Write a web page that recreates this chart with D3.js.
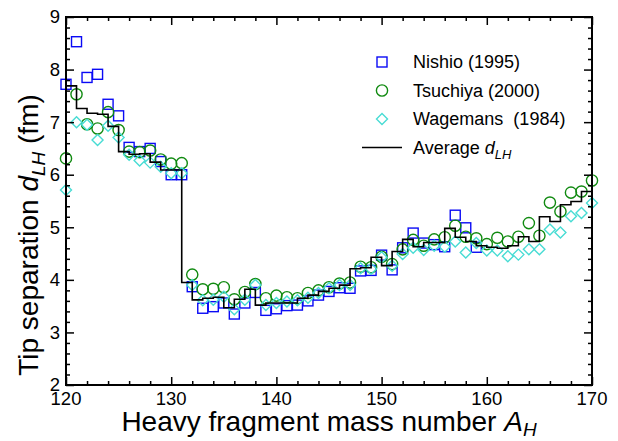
<!DOCTYPE html>
<html>
<head>
<meta charset="utf-8">
<script src="https://cdn.jsdelivr.net/npm/d3@7"></script>
<style>
  body { margin: 0; background: #fff; }
  text { font-family: "Liberation Sans", Arial, sans-serif; fill: #000; }
</style>
</head>
<body>
<svg id="chart" width="618" height="441"></svg>
<script>
// heavy fragment mass numbers A_H
const massNumbers = d3.range(120, 171);

// Nishio (1995), A_H = 120..159
const nishioStart = 120;
const nishio = [7.72, 8.53, 7.85, 7.91, 7.34, 7.12, 6.52, 6.44, 6.50, 6.25,
  6.00, 6.00, 3.87, 3.46, 3.49, 3.56, 3.35, 3.56, 3.76, 3.42,
  3.45, 3.51, 3.52, 3.60, 3.71, 3.78, 3.85, 3.84, 4.17, 4.18,
  4.47, 4.19, 4.61, 4.89, 4.70, 4.67, 4.63, 5.23, 4.99, 4.62];

// Tsuchiya (2000), A_H = 120..170
const tsuchiya = [6.31, 7.53, 6.96, 6.88, 7.19, 6.85, 6.44, 6.43, 6.46, 6.29,
  6.21, 6.22, 4.10, 3.82, 3.83, 3.86, 3.63, 3.77, 3.92, 3.65,
  3.70, 3.67, 3.65, 3.75, 3.80, 3.86, 3.93, 3.95, 4.25, 4.24,
  4.44, 4.30, 4.58, 4.76, 4.65, 4.77, 4.81, 5.03, 4.82, 4.79,
  4.68, 4.80, 4.73, 4.82, 5.08, 4.84, 5.47, 5.30, 5.66, 5.68, 5.89];

// Wagemans (1984), A_H = 120..170
const wagemans = [5.71, 7.00, 6.95, 6.66, 6.93, 6.71, 6.38, 6.27, 6.23, 6.15,
  6.03, 6.03, 3.90, 3.61, 3.62, 3.68, 3.44, 3.62, 3.90, 3.52,
  3.56, 3.59, 3.61, 3.66, 3.75, 3.84, 3.90, 3.90, 4.22, 4.21,
  4.43, 4.27, 4.49, 4.61, 4.57, 4.65, 4.63, 4.73, 4.52, 4.70,
  4.56, 4.56, 4.45, 4.48, 4.58, 4.58, 4.96, 4.90, 5.21, 5.27, 5.46];

// Average d_LH, A_H = 120..170 (drawn as steps ending at each A)
const average = [6.58, 7.69, 7.26, 7.17, 7.15, 6.92, 6.44, 6.39, 6.40, 6.24,
  6.09, 6.09, 3.95, 3.62, 3.65, 3.67, 3.47, 3.63, 3.82, 3.52,
  3.56, 3.56, 3.56, 3.65, 3.71, 3.78, 3.84, 3.90, 4.21, 4.23,
  4.43, 4.27, 4.54, 4.77, 4.63, 4.71, 4.71, 4.98, 4.81, 4.73,
  4.65, 4.62, 4.60, 4.65, 4.82, 4.73, 5.20, 5.11, 5.43, 5.49, 5.68];

const xMajor = [120, 130, 140, 150, 160, 170];
const yMajor = [2, 3, 4, 5, 6, 7, 8, 9];

const legendItems = [
  { label: 'Nishio (1995)', kind: 'square' },
  { label: 'Tsuchiya (2000)', kind: 'circle' },
  { label: 'Wagemans  (1984)', kind: 'diamond' },
  { label: 'Average', kind: 'line' }
];

const colors = { square: '#0a0af5', circle: '#108a10', diamond: '#48dcd4' };

const svg = d3.select('#chart');
const m = { left: 66, right: 592, top: 17, bottom: 385 };

const x = d3.scaleLinear().domain([120, 170]).range([m.left, m.right]);
const y = d3.scaleLinear().domain([2, 9]).range([m.bottom, m.top]);

const toPoints = (vals, start) => vals.map((v, i) => ({ a: start + i, v: v }));

// marker drawing
function drawMarker(g, kind, cx, cy) {
  if (kind === 'square') {
    g.append('rect').attr('x', cx - 5).attr('y', cy - 5)
      .attr('width', 10).attr('height', 10)
      .attr('fill', 'none').attr('stroke', colors.square).attr('stroke-width', 1.4);
  } else if (kind === 'circle') {
    g.append('circle').attr('cx', cx).attr('cy', cy).attr('r', 5.6)
      .attr('fill', 'none').attr('stroke', colors.circle).attr('stroke-width', 1.4);
  } else if (kind === 'diamond') {
    g.append('path')
      .attr('d', `M${cx},${cy - 5.5}L${cx + 5.5},${cy}L${cx},${cy + 5.5}L${cx - 5.5},${cy}Z`)
      .attr('fill', 'none').attr('stroke', colors.diamond).attr('stroke-width', 1.4);
  }
}

const series = [
  { kind: 'square', pts: toPoints(nishio, nishioStart) },
  { kind: 'circle', pts: toPoints(tsuchiya, massNumbers[0]) },
  { kind: 'diamond', pts: toPoints(wagemans, massNumbers[0]) }
];

const marks = svg.append('g');
series.forEach(s => {
  s.pts.forEach(p => drawMarker(marks, s.kind, x(p.a), y(p.v)));
});

// average step line
const stepLine = d3.line()
  .x(d => x(d.a))
  .y(d => y(d.v))
  .curve(d3.curveStepBefore);

svg.append('path')
  .datum(toPoints(average, massNumbers[0]))
  .attr('d', stepLine)
  .attr('fill', 'none')
  .attr('stroke', '#000')
  .attr('stroke-width', 1.6);

// axes with inward ticks on all four sides
const xMinor = d3.range(120, 171, 2).filter(v => !xMajor.includes(v));
const yMinor = d3.range(20, 91, 2).map(v => v / 10).filter(v => !yMajor.includes(v));

svg.append('g').attr('transform', `translate(0,${m.bottom})`)
  .call(d3.axisBottom(x).tickValues(xMajor).tickSize(-8).tickFormat(''));
svg.append('g').attr('transform', `translate(0,${m.bottom})`)
  .call(d3.axisBottom(x).tickValues(xMinor).tickSize(-4).tickFormat(''));
svg.append('g').attr('transform', `translate(0,${m.top})`)
  .call(d3.axisTop(x).tickValues(xMajor).tickSize(-8).tickFormat(''));
svg.append('g').attr('transform', `translate(0,${m.top})`)
  .call(d3.axisTop(x).tickValues(xMinor).tickSize(-4).tickFormat(''));
svg.append('g').attr('transform', `translate(${m.left},0)`)
  .call(d3.axisLeft(y).tickValues(yMajor).tickSize(-8).tickFormat(''));
svg.append('g').attr('transform', `translate(${m.left},0)`)
  .call(d3.axisLeft(y).tickValues(yMinor).tickSize(-4).tickFormat(''));
svg.append('g').attr('transform', `translate(${m.right},0)`)
  .call(d3.axisRight(y).tickValues(yMajor).tickSize(-8).tickFormat(''));
svg.append('g').attr('transform', `translate(${m.right},0)`)
  .call(d3.axisRight(y).tickValues(yMinor).tickSize(-4).tickFormat(''));

svg.selectAll('.domain').remove();
svg.selectAll('.tick line').attr('stroke', '#000').attr('stroke-width', 1.5);

svg.append('rect')
  .attr('x', m.left).attr('y', m.top)
  .attr('width', m.right - m.left).attr('height', m.bottom - m.top)
  .attr('fill', 'none').attr('stroke', '#000').attr('stroke-width', 2);

// tick labels
svg.append('g').selectAll('text').data(xMajor).join('text')
  .attr('x', d => x(d)).attr('y', 405)
  .attr('text-anchor', 'middle')
  .style('font-size', '18.5px')
  .text(d => d);

svg.append('g').selectAll('text').data(yMajor).join('text')
  .attr('x', 60).attr('y', d => y(d)).attr('dy', '0.35em')
  .attr('text-anchor', 'end')
  .style('font-size', '18.5px')
  .text(d => d);

// axis titles
const xTitle = svg.append('text')
  .attr('x', (m.left + m.right) / 2).attr('y', 431)
  .attr('text-anchor', 'middle')
  .style('font-size', '28px');
xTitle.append('tspan').text('Heavy fragment mass number ');
xTitle.append('tspan').style('font-style', 'italic').text('A');
xTitle.append('tspan').style('font-style', 'italic').style('font-size', '19px')
  .attr('dy', 5).text('H');

const yTitle = svg.append('text')
  .attr('transform', `translate(38,${(m.top + m.bottom) / 2 + 34}) rotate(-90)`)
  .attr('text-anchor', 'middle')
  .style('font-size', '28px');
yTitle.append('tspan').text('Tip separation ');
yTitle.append('tspan').style('font-style', 'italic').text('d');
yTitle.append('tspan').style('font-style', 'italic').style('font-size', '19px')
  .attr('dy', 7).text('LH');
yTitle.append('tspan').attr('dy', -7).text(' (fm)');

// legend
const legend = svg.append('g');
legendItems.forEach((item, i) => {
  const ly = 62 + i * 28.5;
  if (item.kind === 'line') {
    legend.append('line')
      .attr('x1', 362).attr('x2', 402).attr('y1', ly).attr('y2', ly)
      .attr('stroke', '#000').attr('stroke-width', 1.6);
  } else {
    drawMarker(legend, item.kind, 382, ly);
  }
  const t = legend.append('text')
    .attr('x', 413).attr('y', ly).attr('dy', '0.35em')
    .attr('xml:space', 'preserve')
    .style('white-space', 'pre')
    .style('font-size', '18px')
    .text(item.label);
  if (item.kind === 'line') {
    t.append('tspan').text(' ');
    t.append('tspan').style('font-style', 'italic').text('d');
    t.append('tspan').style('font-style', 'italic').style('font-size', '13px')
      .attr('dy', 5).text('LH');
  }
});
</script>
</body>
</html>
